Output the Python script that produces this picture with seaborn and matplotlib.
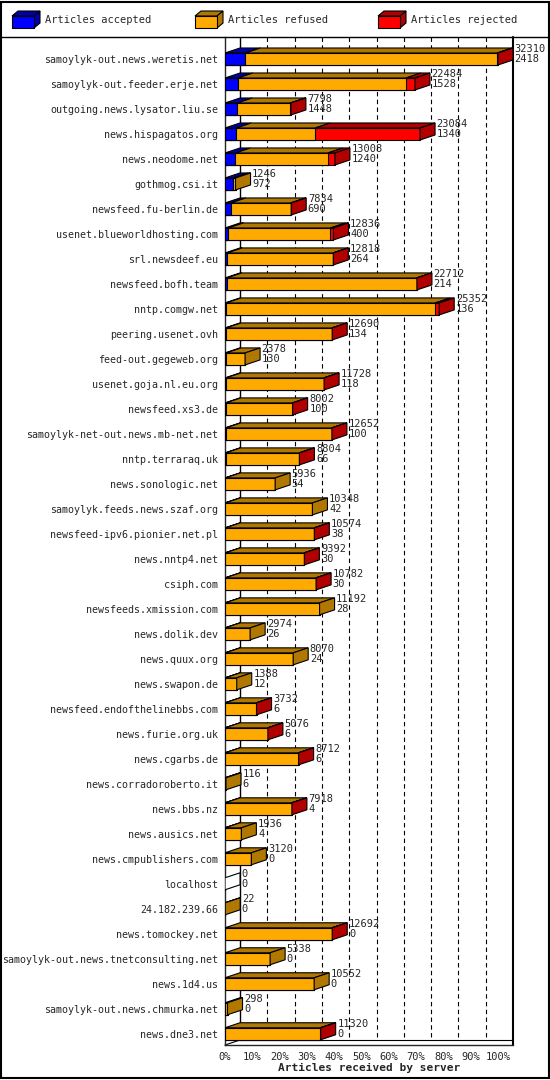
import matplotlib
matplotlib.use("Agg")
import matplotlib.pyplot as plt
import seaborn as sns
import pandas as pd
from matplotlib.patches import Polygon, Rectangle
from matplotlib.lines import Line2D

servers = ["samoylyk-out.news.weretis.net","samoylyk-out.feeder.erje.net","outgoing.news.lysator.liu.se",
"news.hispagatos.org","news.neodome.net","gothmog.csi.it","newsfeed.fu-berlin.de","usenet.blueworldhosting.com",
"srl.newsdeef.eu","newsfeed.bofh.team","nntp.comgw.net","peering.usenet.ovh","feed-out.gegeweb.org",
"usenet.goja.nl.eu.org","newsfeed.xs3.de","samoylyk-net-out.news.mb-net.net","nntp.terraraq.uk",
"news.sonologic.net","samoylyk.feeds.news.szaf.org","newsfeed-ipv6.pionier.net.pl","news.nntp4.net",
"csiph.com","newsfeeds.xmission.com","news.dolik.dev","news.quux.org","news.swapon.de",
"newsfeed.endofthelinebbs.com","news.furie.org.uk","news.cgarbs.de","news.corradoroberto.it","news.bbs.nz",
"news.ausics.net","news.cmpublishers.com","localhost","24.182.239.66","news.tomockey.net",
"samoylyk-out.news.tnetconsulting.net","news.1d4.us","samoylyk-out.news.chmurka.net","news.dne3.net"]
offered = [32310,22484,7798,23084,13008,1246,7834,12836,12818,22712,25352,12690,2378,11728,8002,12652,8804,
5936,10348,10574,9392,10782,11192,2974,8070,1388,3732,5076,8712,116,7918,1936,3120,0,22,12692,5338,10552,298,11320]
accepted = [2418,1528,1448,1340,1240,972,690,400,264,214,136,134,130,118,100,100,66,54,42,38,30,30,28,26,24,12,
6,6,6,6,4,4,0,0,0,0,0,0,0,0]
rejected = [100,1060,50,12400,830,0,50,350,30,30,470,30,0,20,20,20,20,0,0,20,20,20,0,0,0,0,
20,20,20,0,20,0,0,0,0,20,0,0,0,20]
refused = [o - a - r for o, a, r in zip(offered, accepted, rejected)]

MAXV = max(offered)
pct = lambda v: v / MAXV * 100.0
df = pd.DataFrame({"server": servers,
                   "acc": [pct(a) for a in accepted],
                   "accref": [pct(a + f) for a, f in zip(accepted, refused)],
                   "tot": [pct(o) for o in offered]})

BLUE, BLUE_D = "#0000ff", "#0000a8"
ORNG, ORNG_D = "#ffaa00", "#b07800"
RED, RED_D = "#ff0000", "#b00000"

sns.set_style("white")
plt.rcParams["font.family"] = ["DejaVu Sans Mono"]
fig = plt.figure(figsize=(5.5, 10.8), dpi=100)
ax = fig.add_axes([225/550, 1-1045/1080, 288/550, (1045-37)/1080])
H = 0.48
for col, c, z in [("tot", RED, 3), ("accref", ORNG, 4), ("acc", BLUE, 5)]:
    sns.barplot(data=df, y="server", x=col, color=c, orient="h", width=H, ax=ax, saturation=1,
                edgecolor="black", linewidth=0.8, zorder=z)

DX, DY = 5.5, 0.2
for i in range(len(servers)):
    segs = [(0, df.acc[i], BLUE_D), (df.acc[i], df.accref[i], ORNG_D), (df.accref[i], df.tot[i], RED_D)]
    yt = i - H/2
    last = None
    for x0, x1, c in segs:
        if x1 - x0 > 0:
            ax.add_patch(Polygon([(x0, yt), (x1, yt), (x1+DX, yt-DY), (x0+DX, yt-DY)], closed=True,
                                 facecolor=c, edgecolor="black", linewidth=0.8, zorder=6))
            last = c
    xe = df.tot[i]
    ax.add_patch(Polygon([(xe, yt), (xe+DX, yt-DY), (xe+DX, i+H/2-DY), (xe, i+H/2)], closed=True,
                         facecolor=last if last else "white", edgecolor="black", linewidth=0.8, zorder=6))
    ax.text(xe+DX+0.6, i-0.2, f"{offered[i]}\n{accepted[i]}", fontsize=7.5, va="center", ha="left",
            linespacing=0.95, zorder=7)

YB = 39.45
for g in range(10, 101, 10):
    ax.plot([g+DX, g+DX], [-0.88, YB-DY], ls=(0, (4, 3)), color="black", lw=0.8, zorder=1)
ax.plot([DX, DX], [-0.88, YB-DY], color="black", lw=1, zorder=1)
ax.plot([105.5, 105.5], [-0.88, YB], color="black", lw=1.5, zorder=1, clip_on=False)
ax.plot([0, DX], [YB, YB-DY], color="black", lw=0.8, zorder=1, clip_on=False)
ax.plot([DX, 105.5], [YB-DY, YB-DY], color="black", lw=0.8, zorder=1, clip_on=False)

ax.set_xlim(0, 105.5)
ax.set_ylim(YB, -0.88)
ax.set_xticks(range(0, 101, 10))
ax.set_xticklabels([f"{t}%" for t in range(0, 101, 10)], fontsize=7.5)
ax.tick_params(axis="both", length=3, pad=2)
ax.tick_params(axis="y", labelsize=7.2)
ax.tick_params(axis="x", labelsize=7.5)
ax.set_ylabel("")
ax.set_xlabel("Articles received by server", fontsize=8, fontweight="bold", labelpad=1)
for s in ["top", "right"]:
    ax.spines[s].set_visible(False)
ax.spines["left"].set_linewidth(1)
ax.spines["bottom"].set_linewidth(1)

fig.add_artist(Line2D([0, 1], [1-37/1080, 1-37/1080], color="black", lw=1))
fig.add_artist(Rectangle((0.002, 0.002), 0.996, 0.996, fill=False, edgecolor="black", lw=1.5,
                         transform=fig.transFigure))
legend = [("Articles accepted", BLUE, BLUE_D, 12), ("Articles refused", ORNG, ORNG_D, 195),
          ("Articles rejected", RED, RED_D, 378)]
for lab, c, cd, x in legend:
    X = x/550; Y = 1-28/1080; w = 22/550; h = 17/1080; dx = 6/550; dy = 5/1080
    fig.add_artist(Polygon([(X, Y+h-dy), (X+w, Y+h-dy), (X+w+dx, Y+h), (X+dx, Y+h)], closed=True, facecolor=cd,
                           edgecolor="black", lw=0.8, transform=fig.transFigure))
    fig.add_artist(Polygon([(X+w, Y), (X+w+dx, Y+dy), (X+w+dx, Y+h), (X+w, Y+h-dy)], closed=True,
                           facecolor=cd, edgecolor="black", lw=0.8, transform=fig.transFigure))
    fig.add_artist(Rectangle((X, Y), w, h - dy, facecolor=c, edgecolor="black", lw=0.8,
                             transform=fig.transFigure))
    fig.text(X + w + dx + 5/550, 1-20/1080, lab, fontsize=7.5, va="center", ha="left")

fig.savefig("out.png", dpi=100)
